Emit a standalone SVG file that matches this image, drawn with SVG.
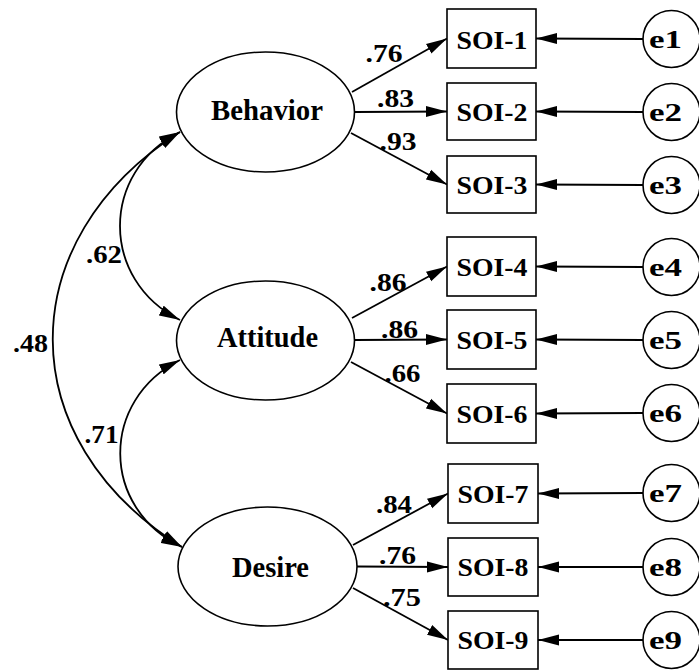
<svg xmlns="http://www.w3.org/2000/svg" width="699" height="671" viewBox="0 0 699 671">
<style>
.lat{fill:#fff;stroke:#000;stroke-width:1.6}
.box{fill:#fff;stroke:#000;stroke-width:1.6}
.err{fill:#fff;stroke:#000;stroke-width:1.6}
.t{font-family:"Liberation Serif","Times New Roman",serif;font-weight:bold;font-size:26px;fill:#000;text-anchor:middle}
.tl{font-size:29px}
.c{fill:none;stroke:#000;stroke-width:1.8}
.ce{fill:none;stroke:#000;stroke-width:2.2}
</style>
<defs>
<marker id="ah" markerUnits="userSpaceOnUse" markerWidth="21" markerHeight="12" refX="21" refY="6" orient="auto-start-reverse">
<path d="M0,0.5 L21,6 L0,11.5 z" fill="#000"/>
</marker>
</defs>
<rect width="699" height="671" fill="#fff"/>
<g id="connectors">
<path class="c" d="M352,92 L447,38.5" marker-end="url(#ah)"/>
<path class="c" d="M355,112 L447,111.5" marker-end="url(#ah)"/>
<path class="c" d="M351,133 L447,184.5" marker-end="url(#ah)"/>
<path class="c" d="M352,318 L447,266.5" marker-end="url(#ah)"/>
<path class="c" d="M355,340 L447,339.5" marker-end="url(#ah)"/>
<path class="c" d="M351,362 L447,413.5" marker-end="url(#ah)"/>
<path class="c" d="M353,545 L448,493.5" marker-end="url(#ah)"/>
<path class="c" d="M357,566.5 L448,567" marker-end="url(#ah)"/>
<path class="c" d="M353,588 L448,640" marker-end="url(#ah)"/>
<path class="ce" d="M643,39 L536,38.5" marker-end="url(#ah)"/>
<path class="ce" d="M643,112 L536,111.5" marker-end="url(#ah)"/>
<path class="ce" d="M643,185 L536,184.5" marker-end="url(#ah)"/>
<path class="ce" d="M643,267 L536,266.5" marker-end="url(#ah)"/>
<path class="ce" d="M643,340 L536,339.5" marker-end="url(#ah)"/>
<path class="ce" d="M643,413 L536,413.5" marker-end="url(#ah)"/>
<path class="ce" d="M643,493 L538,493.5" marker-end="url(#ah)"/>
<path class="ce" d="M643,567 L538,567" marker-end="url(#ah)"/>
<path class="ce" d="M643,640 L538,640" marker-end="url(#ah)"/>
<path class="c" d="M180,132 C100,172 100,280 180,320" marker-start="url(#ah)" marker-end="url(#ah)"/>
<path class="c" d="M180,360 C100,400 100,508 182,547" marker-start="url(#ah)" marker-end="url(#ah)"/>
<path class="c" d="M180,132 C10,240 10,440 182,547" marker-start="url(#ah)" marker-end="url(#ah)"/>
</g>
<g id="labels">
<text class="t" x="384" y="62" textLength="37" lengthAdjust="spacingAndGlyphs">.76</text>
<text class="t" x="395.5" y="107" textLength="37" lengthAdjust="spacingAndGlyphs">.83</text>
<text class="t" x="398" y="150" textLength="37" lengthAdjust="spacingAndGlyphs">.93</text>
<text class="t" x="388" y="291" textLength="37" lengthAdjust="spacingAndGlyphs">.86</text>
<text class="t" x="399.5" y="338" textLength="37" lengthAdjust="spacingAndGlyphs">.86</text>
<text class="t" x="402.5" y="382" textLength="36" lengthAdjust="spacingAndGlyphs">.66</text>
<text class="t" x="394" y="513" textLength="36" lengthAdjust="spacingAndGlyphs">.84</text>
<text class="t" x="397.5" y="564" textLength="37" lengthAdjust="spacingAndGlyphs">.76</text>
<text class="t" x="402" y="606" textLength="38" lengthAdjust="spacingAndGlyphs">.75</text>
<text class="t" x="104" y="263" textLength="36" lengthAdjust="spacingAndGlyphs">.62</text>
<text class="t" x="30.5" y="352" textLength="35" lengthAdjust="spacingAndGlyphs">.48</text>
<text class="t" x="101.5" y="443" textLength="34" lengthAdjust="spacingAndGlyphs">.71</text>
</g>
<g id="Behavior"><ellipse class="lat" cx="265.5" cy="112" rx="89" ry="60"/><text class="t tl" x="267" y="119.5" textLength="112" lengthAdjust="spacingAndGlyphs">Behavior</text></g>
<g id="Attitude"><ellipse class="lat" cx="265.5" cy="340.5" rx="89" ry="59.5"/><text class="t tl" x="267.5" y="346.5" textLength="101" lengthAdjust="spacingAndGlyphs">Attitude</text></g>
<g id="Desire"><ellipse class="lat" cx="267.5" cy="566.5" rx="89.5" ry="59.5"/><text class="t tl" x="270.5" y="577" textLength="77" lengthAdjust="spacingAndGlyphs">Desire</text></g>
<g id="SOI-1"><rect class="box" x="447" y="9" width="89" height="59"/><text class="t" x="492" y="49" textLength="71" lengthAdjust="spacingAndGlyphs">SOI-1</text></g>
<g id="SOI-2"><rect class="box" x="447" y="83" width="89" height="57"/><text class="t" x="492" y="121" textLength="71" lengthAdjust="spacingAndGlyphs">SOI-2</text></g>
<g id="SOI-3"><rect class="box" x="447" y="156" width="89" height="57"/><text class="t" x="492" y="194" textLength="71" lengthAdjust="spacingAndGlyphs">SOI-3</text></g>
<g id="SOI-4"><rect class="box" x="447" y="237" width="89" height="59"/><text class="t" x="492" y="276" textLength="71" lengthAdjust="spacingAndGlyphs">SOI-4</text></g>
<g id="SOI-5"><rect class="box" x="447" y="310" width="89" height="59"/><text class="t" x="492" y="349" textLength="71" lengthAdjust="spacingAndGlyphs">SOI-5</text></g>
<g id="SOI-6"><rect class="box" x="447" y="384" width="89" height="59"/><text class="t" x="492" y="423" textLength="71" lengthAdjust="spacingAndGlyphs">SOI-6</text></g>
<g id="SOI-7"><rect class="box" x="448" y="464" width="90" height="59"/><text class="t" x="493" y="503" textLength="71" lengthAdjust="spacingAndGlyphs">SOI-7</text></g>
<g id="SOI-8"><rect class="box" x="448" y="538" width="90" height="58"/><text class="t" x="493" y="576" textLength="71" lengthAdjust="spacingAndGlyphs">SOI-8</text></g>
<g id="SOI-9"><rect class="box" x="448" y="611" width="90" height="58"/><text class="t" x="493" y="649" textLength="71" lengthAdjust="spacingAndGlyphs">SOI-9</text></g>
<g id="e1"><circle class="err" cx="671.5" cy="39" r="28.5"/><text class="t" x="665.5" y="48" textLength="33" lengthAdjust="spacingAndGlyphs">e1</text></g>
<g id="e2"><circle class="err" cx="671.5" cy="112" r="28.5"/><text class="t" x="665.5" y="121" textLength="33" lengthAdjust="spacingAndGlyphs">e2</text></g>
<g id="e3"><circle class="err" cx="671.5" cy="185" r="28.5"/><text class="t" x="665.5" y="194" textLength="33" lengthAdjust="spacingAndGlyphs">e3</text></g>
<g id="e4"><circle class="err" cx="671.5" cy="267" r="28.5"/><text class="t" x="665.5" y="276" textLength="33" lengthAdjust="spacingAndGlyphs">e4</text></g>
<g id="e5"><circle class="err" cx="671.5" cy="340" r="28.5"/><text class="t" x="665.5" y="349" textLength="33" lengthAdjust="spacingAndGlyphs">e5</text></g>
<g id="e6"><circle class="err" cx="671.5" cy="413" r="28.5"/><text class="t" x="665.5" y="422" textLength="33" lengthAdjust="spacingAndGlyphs">e6</text></g>
<g id="e7"><circle class="err" cx="671.5" cy="493" r="28.5"/><text class="t" x="665.5" y="502" textLength="33" lengthAdjust="spacingAndGlyphs">e7</text></g>
<g id="e8"><circle class="err" cx="671.5" cy="567" r="28.5"/><text class="t" x="665.5" y="576" textLength="33" lengthAdjust="spacingAndGlyphs">e8</text></g>
<g id="e9"><circle class="err" cx="671.5" cy="640" r="28.5"/><text class="t" x="665.5" y="649" textLength="33" lengthAdjust="spacingAndGlyphs">e9</text></g>
</svg>
